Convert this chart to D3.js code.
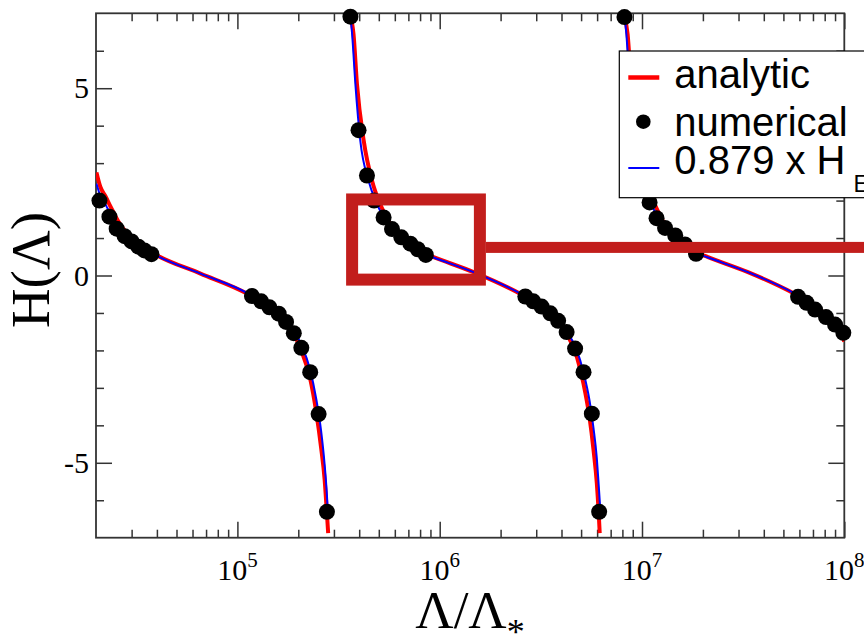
<!DOCTYPE html>
<meta charset="utf-8">
<title>H(Lambda)</title>
<body>
<script src="https://d3js.org/d3.v7.min.js"></script>
<style>
html, body {
    margin: 0;
    background: #fff;
}
svg {
    display: block;
}
</style>
<svg></svg>
<script>
// analytic H(Λ), one array per branch
var analyticA = [[2.01e4, 2.75], [2.10e4, 2.37], [2.23e4, 2.11], [2.36e4, 1.84], [2.58e4, 1.44], [2.86e4, 1.11],
    [3.32e4, 0.80], [4.03e4, 0.53], [6.57e4, 0.05], [1.12e5, -0.49], [1.34e5, -0.75], [1.59e5, -1.03],
    [1.77e5, -1.23], [1.91e5, -1.57], [2.08e5, -2.04], [2.28e5, -2.71], [2.46e5, -3.69], [2.59e5, -4.58],
    [2.70e5, -5.46], [2.77e5, -6.35], [2.81e5, -6.88]];
var analyticB = [[3.60e5, 6.97], [3.75e5, 6.44], [3.90e5, 5.11], [4.21e5, 3.60], [4.63e5, 2.53], [4.99e5, 2.00],
    [5.57e5, 1.47], [6.39e5, 0.98], [7.72e5, 0.67], [9.33e5, 0.49], [1.47e6, 0.09], [2.50e6, -0.49],
    [3.14e6, -0.80], [3.65e6, -1.11], [4.25e6, -1.55], [4.77e6, -2.18], [5.14e6, -2.89], [5.50e6, -3.78],
    [5.76e6, -4.66], [5.98e6, -5.55], [6.11e6, -6.35], [6.18e6, -6.88]];
var analyticC = [[8.16e6, 6.97], [8.49e6, 6.44], [8.84e6, 5.11], [9.52e6, 3.60], [1.05e7, 2.53], [1.135e7, 2.00],
    [1.265e7, 1.47], [1.45e7, 0.98], [1.75e7, 0.67], [2.12e7, 0.49], [3.34e7, 0.09], [5.68e7, -0.49],
    [7.13e7, -0.80], [8.31e7, -1.11], [9.63e7, -1.55], [1e8, -1.76]];

// 0.879 x H_E
var scaledA = [[2.01e4, 2.45], [2.10e4, 2.13], [2.23e4, 1.89], [2.36e4, 1.65], [2.58e4, 1.33], [2.86e4, 1.05],
    [3.32e4, 0.77], [4.03e4, 0.52], [6.57e4, 0.05], [1.12e5, -0.47], [1.34e5, -0.72], [1.59e5, -0.99],
    [1.77e5, -1.20], [1.91e5, -1.49], [2.08e5, -1.87], [2.28e5, -2.48], [2.46e5, -3.33], [2.59e5, -4.13],
    [2.70e5, -5.06], [2.77e5, -5.86], [2.80e5, -6.32]];
var scaledB = [[3.62e5, 6.93], [3.69e5, 6.44], [3.83e5, 5.11], [4.05e5, 3.60], [4.45e5, 2.53], [4.81e5, 2.00],
    [5.45e5, 1.45], [6.39e5, 0.96], [7.72e5, 0.65], [9.33e5, 0.48], [1.47e6, 0.09], [2.50e6, -0.48],
    [3.14e6, -0.79], [3.65e6, -1.08], [4.25e6, -1.49], [4.77e6, -2.00], [5.14e6, -2.59], [5.50e6, -3.33],
    [5.76e6, -4.08], [5.98e6, -4.88], [6.11e6, -5.60], [6.21e6, -6.18]];
var scaledC = [[8.21e6, 6.93], [8.37e6, 6.44], [8.69e6, 5.11], [9.20e6, 3.60], [1.01e7, 2.53], [1.09e7, 2.00],
    [1.24e7, 1.45], [1.45e7, 0.96], [1.75e7, 0.65], [2.12e7, 0.48], [3.34e7, 0.09], [5.68e7, -0.48],
    [7.13e7, -0.79], [8.31e7, -1.08], [9.63e7, -1.49], [1e8, -1.63]];

// numerical points
var numerical = [
    [2.08e4, 2.00], [2.33e4, 1.57], [2.53e4, 1.25], [2.77e4, 1.05], [3.00e4, 0.91], [3.24e4, 0.77], [3.47e4, 0.67], [3.76e4, 0.57],
    [1.18e5, -0.55], [1.31e5, -0.69], [1.44e5, -0.85], [1.60e5, -1.02], [1.74e5, -1.24], [1.90e5, -1.54], [2.07e5, -1.93],
    [2.29e5, -2.58], [2.52e5, -3.70], [2.77e5, -6.31],
    [3.62e5, 6.91], [3.97e5, 3.88], [4.37e5, 2.67], [4.74e5, 2.00], [5.28e5, 1.55], [5.81e5, 1.24], [6.46e5, 1.02],
    [7.16e5, 0.85], [7.79e5, 0.70], [8.54e5, 0.55],
    [2.65e6, -0.56], [2.90e6, -0.69], [3.19e6, -0.83], [3.52e6, -1.01], [3.85e6, -1.21], [4.24e6, -1.51], [4.67e6, -1.95],
    [5.14e6, -2.58], [5.65e6, -3.69], [6.14e6, -6.31],
    [8.19e6, 6.90], [1.09e7, 1.95], [1.18e7, 1.53], [1.30e7, 1.27], [1.46e7, 1.07], [1.63e7, 0.83], [1.85e7, 0.58],
    [5.91e7, -0.57], [6.51e7, -0.73], [7.17e7, -0.91], [8.12e7, -1.11], [9.00e7, -1.31], [9.89e7, -1.53]];

var xMajor = [1e5, 1e6, 1e7, 1e8],
    yMajor = [-5, 0, 5],
    yMinor = [-6, -4, -3, -2, -1, 1, 2, 3, 4, 6];

// highlight box (data coords) and pointer level
var boxX = [3.69e5, 1.58e6],
    boxH = [2.03, -0.11],
    pointerH = 0.75;

var width = 864,
    height = 639,
    margin = {top: 13.3, right: 19.7, bottom: 101.3, left: 96},
    w = width - margin.left - margin.right,
    h = height - margin.top - margin.bottom;

var svg = d3.select("svg")
    .attr("width", width)
    .attr("height", height);

var x = d3.scaleLog().domain([2e4, 1e8]).range([0, w]),
    y = d3.scaleLinear().domain([-7, 7]).range([h, 0]);

var xMinor = [];
[1e4, 1e5, 1e6, 1e7].forEach(function(d) {
    for (var k = 2; k < 10; k++) if (d * k > 2.05e4) xMinor.push(d * k);
});

svg.append("defs").append("clipPath").attr("id", "clip")
  .append("rect").attr("width", w).attr("height", h);

var g = svg.append("g")
    .attr("transform", "translate(" + margin.left + "," + margin.top + ")");

// ticks on all four sides, pointing inward
function ticks(axis, values, size, tx, ty) {
    g.append("g")
        .attr("transform", "translate(" + tx + "," + ty + ")")
        .call(axis.tickValues(values).tickSize(size).tickFormat(""))
        .call(function(s) { s.select(".domain").remove(); })
        .selectAll("line")
        .attr("stroke", "#333")
        .attr("stroke-width", 1.5);
}
ticks(d3.axisBottom(x), xMajor, -16, 0, h);
ticks(d3.axisBottom(x), xMinor, -8, 0, h);
ticks(d3.axisTop(x), xMajor, -16, 0, 0);
ticks(d3.axisTop(x), xMinor, -8, 0, 0);
ticks(d3.axisLeft(y), yMajor, -16, 0, 0);
ticks(d3.axisLeft(y), yMinor, -8, 0, 0);
ticks(d3.axisRight(y), yMajor, -16, w, 0);
ticks(d3.axisRight(y), yMinor, -8, w, 0);

g.append("rect")
    .attr("width", w)
    .attr("height", h)
    .attr("fill", "none")
    .attr("stroke", "#333")
    .attr("stroke-width", 1.8);

// tick labels
var serif = "'Liberation Serif', 'Times New Roman', serif";

g.selectAll(".ylab")
    .data(yMajor)
  .enter().append("text")
    .attr("x", -7)
    .attr("y", function(d) { return y(d); })
    .attr("dy", "0.34em")
    .attr("text-anchor", "end")
    .style("font", "30px " + serif)
    .text(function(d) { return d; });

var xl = g.selectAll(".xlab")
    .data(xMajor)
  .enter().append("text")
    .attr("x", function(d) { return x(d); })
    .attr("y", h + 42.3)
    .attr("text-anchor", "middle")
    .style("font", "30px " + serif);
xl.append("tspan").text("10");
xl.append("tspan")
    .attr("dy", -13)
    .style("font-size", "21px")
    .text(function(d) { return Math.round(Math.log10(d)); });

// axis titles
svg.append("text")
    .attr("transform", "translate(49,270)rotate(-90)")
    .attr("text-anchor", "middle")
    .style("font", "55px " + serif)
    .text("H(Λ)");

var xt = svg.append("text")
    .attr("x", 470)
    .attr("y", 628)
    .attr("text-anchor", "middle")
    .style("font", "53px " + serif);
xt.append("tspan").text("Λ/Λ");
xt.append("tspan").attr("dy", 16).style("font-size", "36px").text("*");

// curves
var line = d3.line()
    .x(function(d) { return x(d[0]); })
    .y(function(d) { return y(d[1]); })
    .curve(d3.curveMonotoneX);

var plot = g.append("g").attr("clip-path", "url(#clip)");

plot.selectAll(".analytic")
    .data([analyticA, analyticB, analyticC])
  .enter().append("path")
    .attr("fill", "none")
    .attr("stroke", "#ff0000")
    .attr("stroke-width", 4)
    .attr("d", line);

g.selectAll(".dot")
    .data(numerical)
  .enter().append("circle")
    .attr("cx", function(d) { return x(d[0]); })
    .attr("cy", function(d) { return y(d[1]); })
    .attr("r", 8)
    .attr("fill", "#000");

plot.selectAll(".scaled")
    .data([scaledA, scaledB, scaledC])
  .enter().append("path")
    .attr("fill", "none")
    .attr("stroke", "#0000ff")
    .attr("stroke-width", 2)
    .attr("d", line);

// legend (runs off the right edge)
var sans = "'Liberation Sans', Arial, sans-serif";
var lg = svg.append("g");
lg.append("rect")
    .attr("x", 619.3)
    .attr("y", 51)
    .attr("width", 300)
    .attr("height", 146.7)
    .attr("fill", "#fff")
    .attr("stroke", "#000")
    .attr("stroke-width", 1.2);
lg.append("line")
    .attr("x1", 628.3).attr("x2", 659.3)
    .attr("y1", 77.5).attr("y2", 77.5)
    .attr("stroke", "#ff0000").attr("stroke-width", 4.5);
lg.append("circle")
    .attr("cx", 643.3).attr("cy", 121.7).attr("r", 7.3)
    .attr("fill", "#000");
lg.append("line")
    .attr("x1", 628.3).attr("x2", 659.3)
    .attr("y1", 168).attr("y2", 168)
    .attr("stroke", "#0000ff").attr("stroke-width", 2);
[["analytic", 87.7], ["numerical", 136], ["0.879 x H", 174.3]].forEach(function(d) {
    lg.append("text")
        .attr("x", 674.3)
        .attr("y", d[1])
        .style("font", "40px " + sans)
        .text(d[0]);
});
lg.append("text")
    .attr("x", 853.5)
    .attr("y", 191.7)
    .style("font", "23px " + sans)
    .text("E");

// red highlight box and pointer bar
var red = "#c21e1c";
var bx0 = margin.left + x(boxX[0]),
    bx1 = margin.left + x(boxX[1]),
    by0 = margin.top + y(boxH[0]),
    by1 = margin.top + y(boxH[1]);
svg.append("rect")
    .attr("x", bx0)
    .attr("y", by0)
    .attr("width", bx1 - bx0)
    .attr("height", by1 - by0)
    .attr("fill", "none")
    .attr("stroke", red)
    .attr("stroke-width", 12);
svg.append("rect")
    .attr("x", bx1 + 6)
    .attr("y", margin.top + y(pointerH) - 5.5)
    .attr("width", width - bx1)
    .attr("height", 11)
    .attr("fill", red);
</script>
